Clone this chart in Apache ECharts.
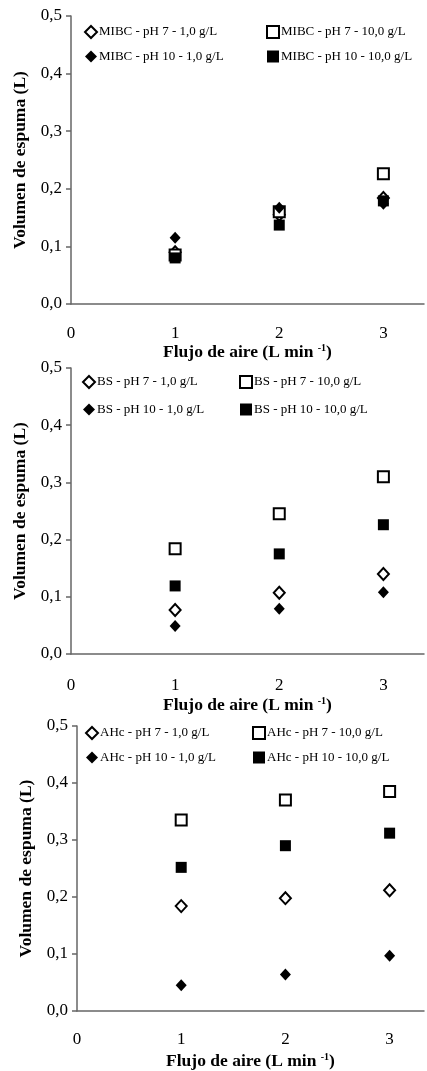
<!DOCTYPE html>
<html>
<head>
<meta charset="utf-8">
<script src="https://cdn.jsdelivr.net/npm/echarts@6/dist/echarts.min.js"></script>
<style>
  html, body { margin: 0; padding: 0; background: #fff; }
  #chart { width: 427px; height: 1071px; }
</style>
</head>
<body>
<div id="chart"></div>
<script>
  // flujo de aire (L/min)
  var flujo = [1, 2, 3];
  var yTicks = [0, 0.1, 0.2, 0.3, 0.4, 0.5];

  // MIBC
  var mibcPh7Low = [0.09, 0.155, 0.184];
  var mibcPh7High = [0.085, 0.16, 0.226];
  var mibcPh10Low = [0.115, 0.167, 0.174];
  var mibcPh10High = [0.08, 0.137, 0.179];

  // BS
  var bsPh7Low = [0.077, 0.107, 0.14];
  var bsPh7High = [0.184, 0.245, 0.31];
  var bsPh10Low = [0.049, 0.079, 0.108];
  var bsPh10High = [0.119, 0.175, 0.226];

  // AHc
  var ahcPh7Low = [0.184, 0.198, 0.212];
  var ahcPh7High = [0.335, 0.37, 0.385];
  var ahcPh10Low = [0.045, 0.064, 0.097];
  var ahcPh10High = [0.252, 0.29, 0.312];

  var paneles = [
    { pre: 'MIBC', data: [mibcPh7Low, mibcPh7High, mibcPh10Low, mibcPh10High] },
    { pre: 'BS', data: [bsPh7Low, bsPh7High, bsPh10Low, bsPh10High] },
    { pre: 'AHc', data: [ahcPh7Low, ahcPh7High, ahcPh10Low, ahcPh10High] }
  ];

  // layout of each panel
  var layout = [
    { left: 71, top: 16, height: 288, width: 356, xmax: 3.39, lblMargin: 21, nameGap: 39, legTop: 25, legL: 84, legR: 266, rowGap: 11 },
    { left: 71, top: 368, height: 286, width: 356, xmax: 3.39, lblMargin: 23, nameGap: 42, legTop: 375, legL: 82, legR: 239, rowGap: 14 },
    { left: 77, top: 726, height: 288, width: 350, xmax: 3.33, lblMargin: 20, nameGap: 41, legTop: 726, legL: 85, legR: 252, rowGap: 11 }
  ];

  var serif = '"Liberation Serif", "DejaVu Serif", serif';
  var axisGray = '#666';

  var grids = [], xAxes = [], yAxes = [], legends = [], series = [];

  function pts(arr) {
    return flujo.map(function (x, i) { return [x, arr[i]]; });
  }

  paneles.forEach(function (p, k) {
    var L = layout[k];
    grids.push({ left: L.left, top: L.top, width: L.width, height: L.height });
    xAxes.push({
      gridIndex: k, type: 'value', min: 0, max: L.xmax, interval: 1,
      axisLine: { show: true, onZero: false, lineStyle: { color: axisGray, width: 1.5 } },
      axisTick: { show: false },
      splitLine: { show: false },
      axisLabel: {
        margin: L.lblMargin, color: '#000', fontFamily: serif, fontSize: 17,
        formatter: function (v) { return Number.isInteger(v) ? String(v) : ''; }
      },
      name: '{t|Flujo de aire (L min }{s|-1}{t|)}',
      nameLocation: 'middle', nameGap: L.nameGap,
      nameTextStyle: {
        rich: {
          t: { fontFamily: serif, fontWeight: 'bold', fontSize: 17.5, color: '#000' },
          s: { fontFamily: serif, fontWeight: 'bold', fontSize: 10, color: '#000', verticalAlign: 'top', padding: [0, 0, 8, 0] }
        }
      }
    });
    yAxes.push({
      gridIndex: k, type: 'value', min: yTicks[0], max: yTicks[yTicks.length - 1], interval: 0.1,
      axisLine: { show: true, lineStyle: { color: axisGray, width: 1.5 } },
      axisTick: { show: true, length: 5, lineStyle: { color: axisGray, width: 1.5 } },
      splitLine: { show: false },
      axisLabel: {
        margin: 9, color: '#000', fontFamily: serif, fontSize: 17,
        formatter: function (v) { return v.toFixed(1).replace('.', ','); }
      },
      name: 'Volumen de espuma (L)',
      nameLocation: 'middle', nameGap: 40, nameRotate: 90,
      nameTextStyle: { fontFamily: serif, fontWeight: 'bold', fontSize: 17.5, color: '#000' }
    });

    var names = [
      p.pre + ' - pH 7 - 1,0 g/L',
      p.pre + ' - pH 7 - 10,0 g/L',
      p.pre + ' - pH 10 - 1,0 g/L',
      p.pre + ' - pH 10 - 10,0 g/L'
    ];
    var styles = [
      { symbol: 'diamond', size: [11, 12], color: '#fff', border: '#000', bw: 2 },
      { symbol: 'rect', size: 11, color: '#fff', border: '#000', bw: 2 },
      { symbol: 'diamond', size: [11, 12], color: '#000', border: '#000', bw: 0 },
      { symbol: 'rect', size: 11, color: '#000', border: '#000', bw: 0 }
    ];
    // series order = draw order (filled square ends on top)
    names.forEach(function (nm, i) {
      var s = styles[i];
      series.push({
        name: nm, type: 'scatter', xAxisIndex: k, yAxisIndex: k,
        symbol: s.symbol, symbolSize: s.size, z: 2 + i,
        itemStyle: { color: s.color, borderColor: s.border, borderWidth: s.bw, opacity: 1 },
        data: pts(p.data[i])
      });
    });

    var legText = { fontFamily: serif, fontSize: 13, color: '#000', padding: [0, 0, 0, -3] };
    legends.push({
      left: L.legL, top: L.legTop, orient: 'vertical', itemGap: L.rowGap,
      itemWidth: 12, itemHeight: 12, padding: 0, textStyle: legText,
      data: [names[0], names[2]], selectedMode: false
    });
    legends.push({
      left: L.legR, top: L.legTop, orient: 'vertical', itemGap: L.rowGap,
      itemWidth: 12, itemHeight: 12, padding: 0, textStyle: legText,
      data: [names[1], names[3]], selectedMode: false
    });
  });

  var chart = echarts.init(document.getElementById('chart'), null, { renderer: 'canvas' });
  chart.setOption({
    animation: false,
    backgroundColor: '#fff',
    grid: grids,
    xAxis: xAxes,
    yAxis: yAxes,
    legend: legends,
    series: series
  });
</script>
</body>
</html>
